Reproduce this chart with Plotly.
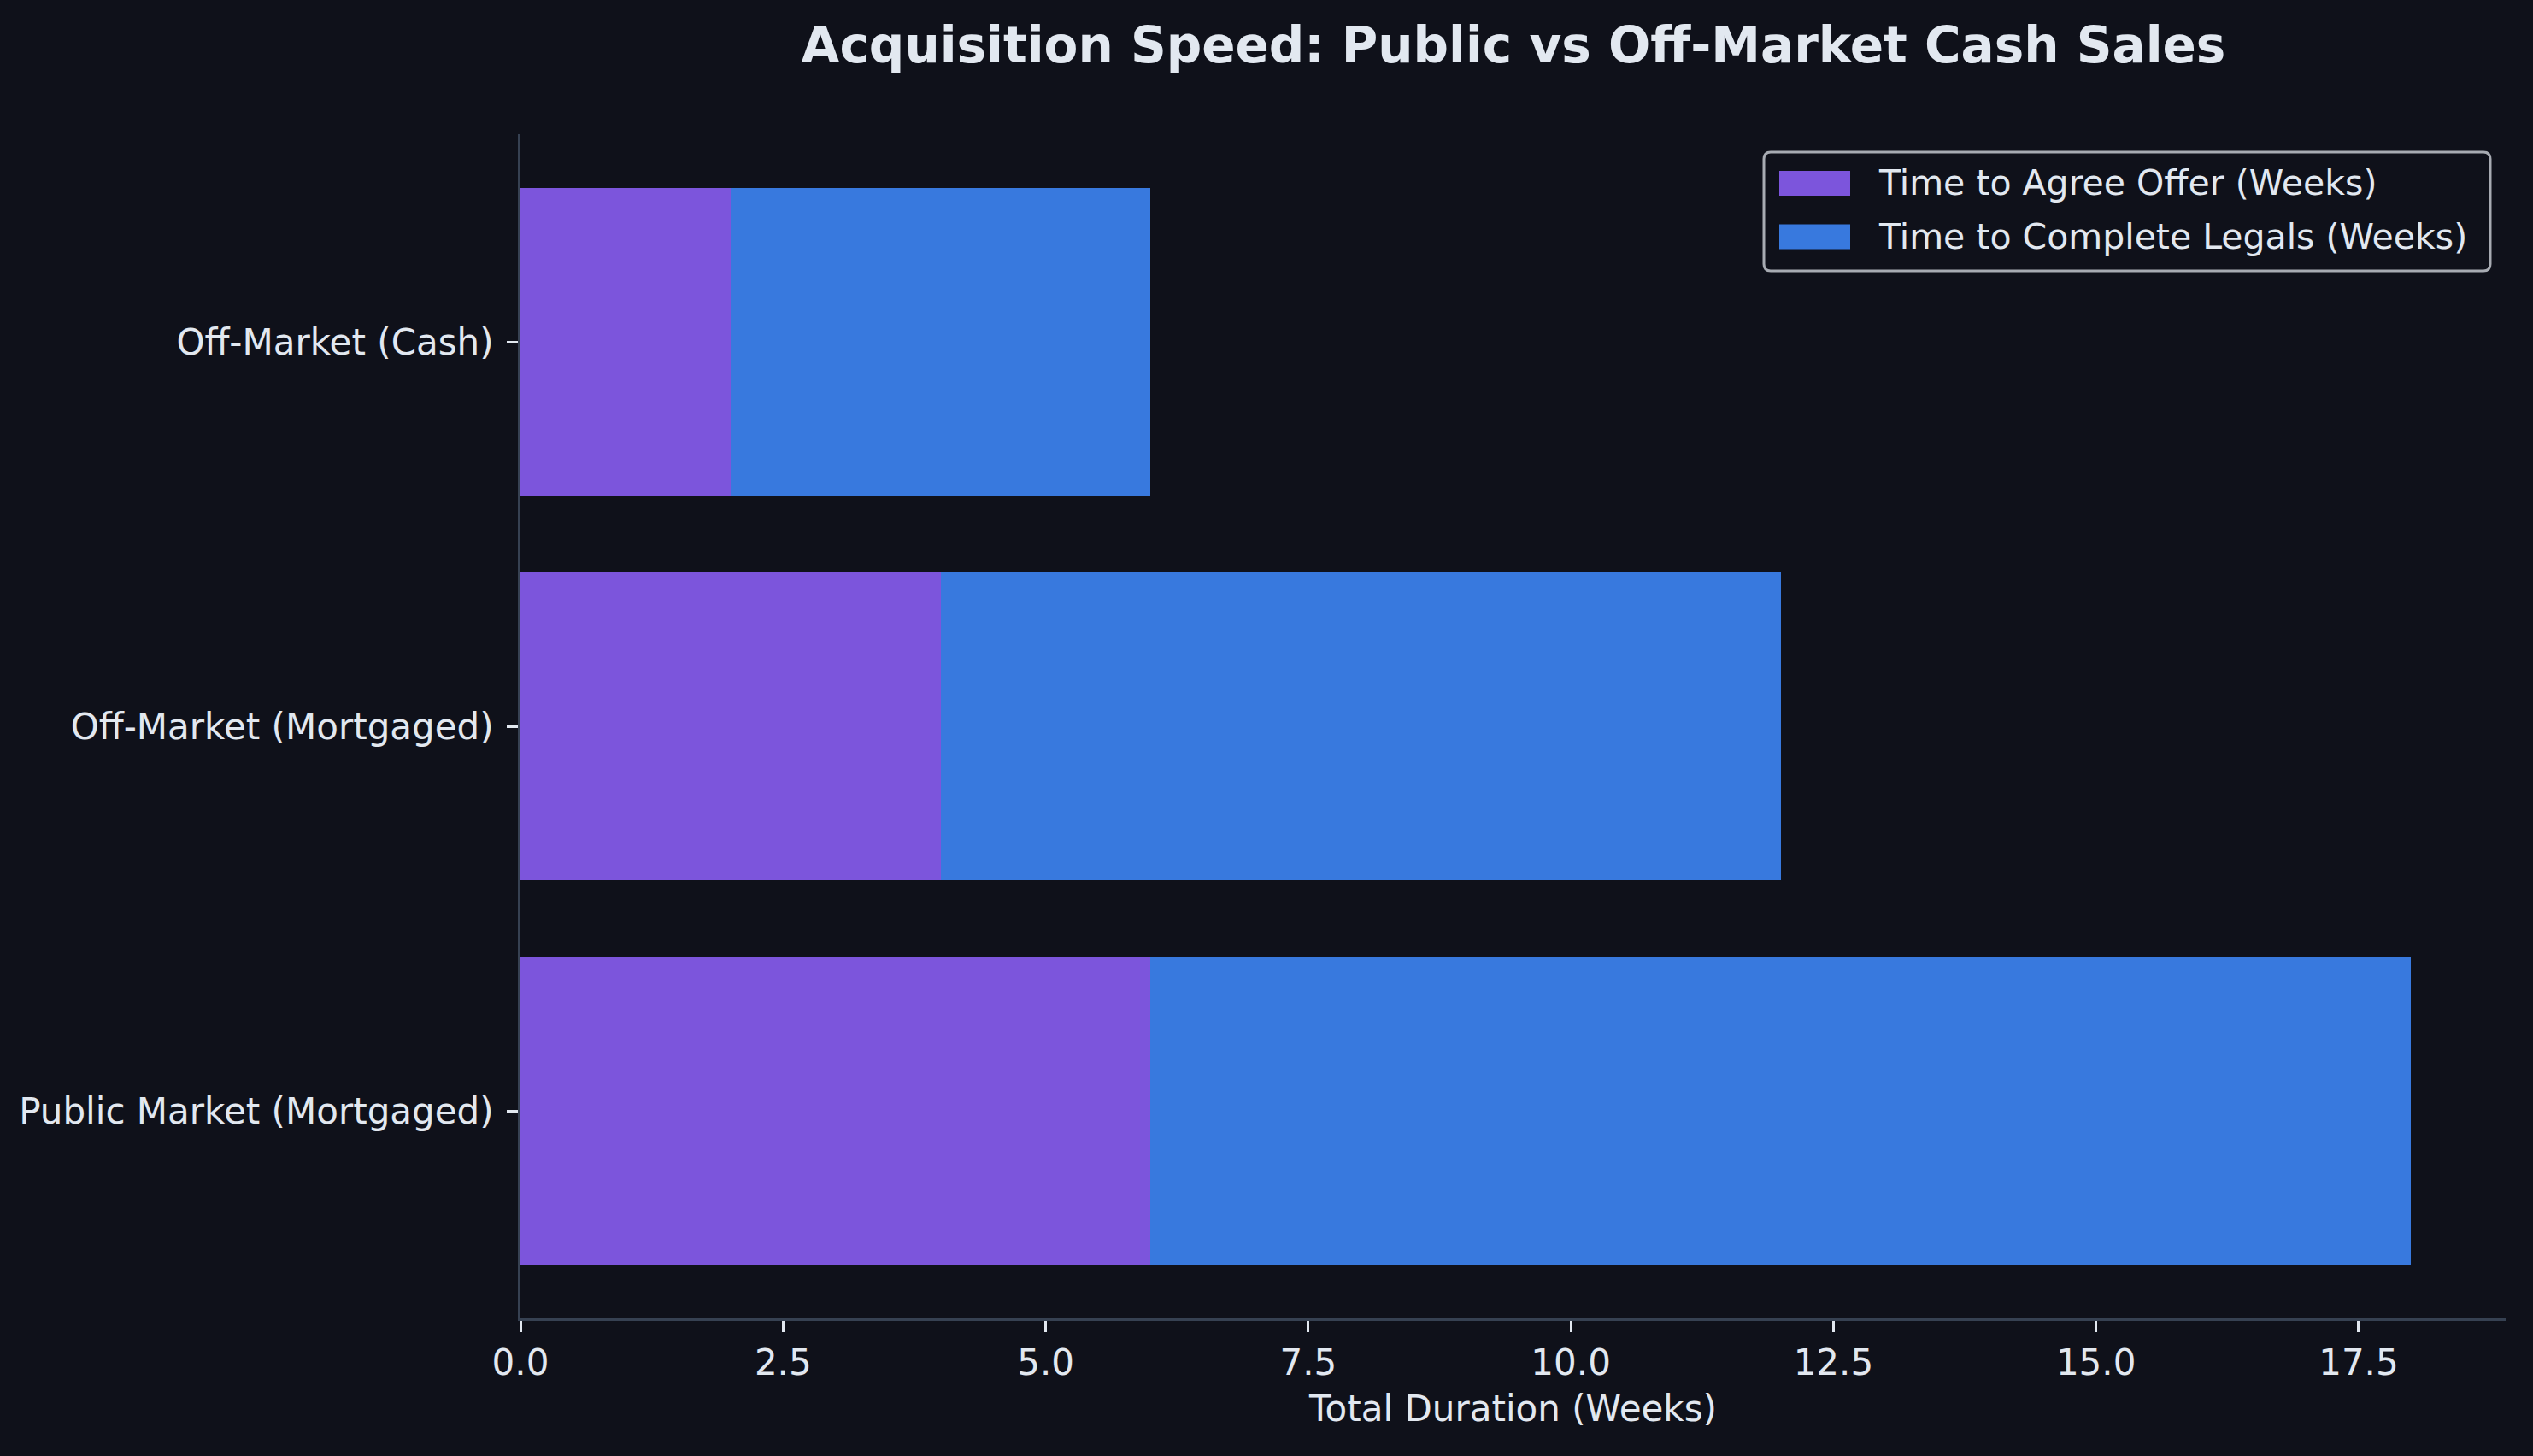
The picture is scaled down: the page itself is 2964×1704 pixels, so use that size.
import plotly.graph_objects as go

categories = ["Public Market (Mortgaged)", "Off-Market (Mortgaged)", "Off-Market (Cash)"]
agree_offer_weeks = [6, 4, 2]
complete_legals_weeks = [12, 8, 4]
series_names = ["Time to Agree Offer (Weeks)", "Time to Complete Legals (Weeks)"]
x_tick_vals = [0, 2.5, 5, 7.5, 10, 12.5, 15, 17.5]
x_tick_text = ["0.0", "2.5", "5.0", "7.5", "10.0", "12.5", "15.0", "17.5"]

BG = "#0f111a"
TXT = "#e2e8f0"
SPINE = "#364152"
LEG_BORDER = "#a7abb2"
PURPLE = "#7c55dc"
BLUE = "#3879de"
FONT = "DejaVu Sans"
COLORS = [PURPLE, BLUE]

W, H = 2964, 1704
ML, MR, MT, MB = 609, 32, 157, 161
PW, PH = W - ML - MR, H - MT - MB


def px(x):
    return (x - ML) / PW


def py(y):
    return (H - MB - y) / PH


fig = go.Figure()
fig.add_trace(go.Bar(y=list(range(len(categories))), x=agree_offer_weeks, orientation="h",
                     name=series_names[0], marker=dict(color=PURPLE, line=dict(width=0)),
                     width=0.8, showlegend=False))
fig.add_trace(go.Bar(y=list(range(len(categories))), x=complete_legals_weeks, orientation="h",
                     base=agree_offer_weeks,
                     name=series_names[1], marker=dict(color=BLUE, line=dict(width=0)),
                     width=0.8, showlegend=False))

# custom legend (matplotlib-like)
bx0, bx1, by0, by1 = 2064, 2914, 178, 317
r = 8
rx, ry = r / PW, r / PH
X0, X1, Y0, Y1 = px(bx0), px(bx1), py(by1), py(by0)
path = (f"M {X0+rx},{Y0} L {X1-rx},{Y0} Q {X1},{Y0} {X1},{Y0+ry} "
        f"L {X1},{Y1-ry} Q {X1},{Y1} {X1-rx},{Y1} L {X0+rx},{Y1} Q {X0},{Y1} {X0},{Y1-ry} "
        f"L {X0},{Y0+ry} Q {X0},{Y0} {X0+rx},{Y0} Z")
shapes = [dict(type="path", xref="paper", yref="paper", path=path,
               fillcolor=BG, line=dict(color=LEG_BORDER, width=3), layer="above")]
annotations = []
row_centers = [214.5, 277]
for i, name in enumerate(series_names):
    cy = row_centers[i]
    shapes.append(dict(type="rect", xref="paper", yref="paper",
                       x0=px(2082), x1=px(2165), y0=py(cy + 14.5), y1=py(cy - 14.5),
                       fillcolor=COLORS[i], line=dict(width=0), layer="above"))
    annotations.append(dict(xref="paper", yref="paper", x=px(2196), y=py(cy),
                            xanchor="left", yanchor="middle", showarrow=False,
                            text=name, font=dict(size=41, color=TXT, family=FONT)))

fig.update_layout(
    width=W, height=H,
    paper_bgcolor=BG, plot_bgcolor=BG,
    margin=dict(l=ML, r=MR, t=MT, b=MB, autoexpand=False),
    barmode="overlay",
    font=dict(family=FONT, color=TXT, size=42),
    title=dict(text="<b>Acquisition Speed: Public vs Off-Market Cash Sales</b>",
               x=1771 / W, xanchor="center", y=1 - 53 / H, yanchor="middle",
               font=dict(size=58, color=TXT, family=FONT)),
    showlegend=False,
    shapes=shapes,
    annotations=annotations,
    bargap=0,
)

fig.update_xaxes(
    range=[0, 18.9], tickvals=x_tick_vals, ticktext=x_tick_text,
    showgrid=False, zeroline=False,
    showline=True, linecolor=SPINE, linewidth=3,
    ticks="outside", ticklen=13, tickwidth=3, tickcolor=TXT,
    tickfont=dict(size=42, color=TXT, family=FONT),
    title=dict(text="Total Duration (Weeks)", font=dict(size=42, color=TXT, family=FONT), standoff=16),
)
fig.update_yaxes(
    range=[-0.54, 2.54], tickvals=list(range(len(categories))), ticktext=categories,
    showgrid=False, zeroline=False,
    showline=True, linecolor=SPINE, linewidth=3,
    ticks="outside", ticklen=13, tickwidth=3, tickcolor=TXT, ticklabelstandoff=7,
    tickfont=dict(size=42, color=TXT, family=FONT),
)

fig.write_html("out.html")
